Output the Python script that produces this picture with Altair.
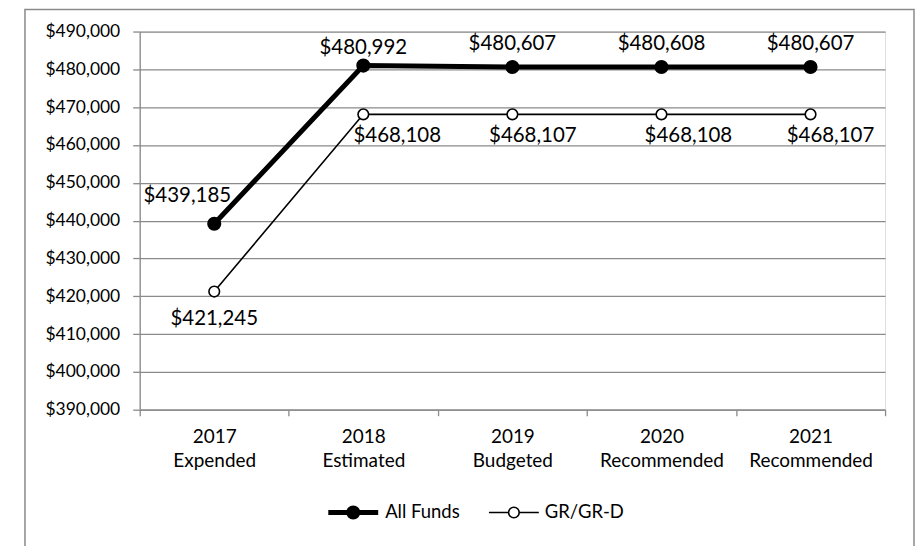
import altair as alt
import pandas as pd

years = ["2017", "2018", "2019", "2020", "2021"]
statuses = ["Expended", "Estimated", "Budgeted", "Recommended", "Recommended"]
all_funds = [439185, 480992, 480607, 480608, 480607]
gr_grd = [421245, 468108, 468107, 468108, 468107]
series_names = ["All Funds", "GR/GR-D"]
y_ticks = [390000, 400000, 410000, 420000, 430000, 440000, 450000, 460000, 470000, 480000, 490000]

categories = [f"{y} {s}" for y, s in zip(years, statuses)]
rows = []
for i, c in enumerate(categories):
    rows.append({"category": c, "idx": i, "series": series_names[0], "value": all_funds[i]})
    rows.append({"category": c, "idx": i, "series": series_names[1], "value": gr_grd[i]})
df = pd.DataFrame(rows)

FONT = "Lato"
GRID = "#8a8a8a"
W, H = 747, 379

x_enc = alt.X(
    "category:N", sort=categories,
    scale=alt.Scale(type="band", paddingInner=0, paddingOuter=0),
    bandPosition=0.5,
    axis=alt.Axis(title=None, labelExpr="split(datum.label, ' ')", tickBand="extent",
                  labelAngle=0, labelFont=FONT, labelFontSize=19, labelColor="black",
                  labelLineHeight=24, labelPadding=12, tickSize=6, tickColor=GRID,
                  domainColor=GRID, domainWidth=1.3, tickWidth=1.3, grid=False),
)
y_enc = alt.Y(
    "value:Q",
    scale=alt.Scale(domain=[390000, 490000], nice=False, zero=False),
    axis=alt.Axis(title=None, values=y_ticks, format="$,.0f", grid=True, gridColor=GRID,
                  gridWidth=1.3, tickSize=7, tickColor=GRID, tickWidth=1.3,
                  domainColor=GRID, domainWidth=1.3, labelPadding=13,
                  labelFont=FONT, labelFontSize=17.5, labelColor="black"),
)

base = alt.Chart(df).encode(x=x_enc, y=y_enc)
af = base.transform_filter(alt.datum.series == series_names[0])
gr = base.transform_filter(alt.datum.series == series_names[1])

layers = []

border = alt.Chart(pd.DataFrame({"a": [0]})).mark_rect(
    fillOpacity=0, stroke="#8a8a8a", strokeWidth=1.5
).encode(x=alt.value(-115), x2=alt.value(776), y=alt.value(-22), y2=alt.value(700))
layers.append(border)

layers.append(af.mark_line(color="black", strokeWidth=5))
layers.append(gr.mark_line(color="black", strokeWidth=1.6))
layers.append(af.mark_point(shape="circle", filled=True, color="black", size=200, opacity=1))
layers.append(gr.mark_point(shape="circle", filled=True, fill="white", stroke="black",
                            strokeWidth=1.6, size=113, opacity=1))

af_off = [(-27, -21.6), (0, -11.4), (0, -16.7), (0, -16.7), (0, -16.7)]
gr_off = [(0, 33.4), (34, 28), (20.5, 28), (27, 28), (20, 28)]
for s_chart, offs in ((af, af_off), (gr, gr_off)):
    for i, (dx, dy) in enumerate(offs):
        layers.append(
            s_chart.transform_filter(alt.datum.idx == i).mark_text(
                font=FONT, fontSize=20.5, color="black", dx=dx, dy=dy,
                baseline="alphabetic", align="center"
            ).encode(text=alt.Text("value:Q", format="$,.0f"))
        )

# manual legend
leg_y = 482
leg_df = pd.DataFrame({"series": series_names})
legA = alt.Chart(leg_df).transform_filter(alt.datum.series == series_names[0])
legB = alt.Chart(leg_df).transform_filter(alt.datum.series == series_names[1])
layers.append(legA.mark_rule(color="black", strokeWidth=5).encode(
    x=alt.value(189), x2=alt.value(239), y=alt.value(leg_y)))
layers.append(legA.mark_point(shape="circle", filled=True, color="black", size=200, opacity=1).encode(
    x=alt.value(214), y=alt.value(leg_y)))
layers.append(legA.mark_text(font=FONT, fontSize=18.5, align="left", baseline="middle", color="black").encode(
    x=alt.value(246), y=alt.value(leg_y), text="series:N"))
layers.append(legB.mark_rule(color="black", strokeWidth=1.6).encode(
    x=alt.value(350), x2=alt.value(400), y=alt.value(leg_y)))
layers.append(legB.mark_point(shape="circle", filled=True, fill="white", stroke="black",
                              strokeWidth=1.6, size=113, opacity=1).encode(
    x=alt.value(375), y=alt.value(leg_y)))
layers.append(legB.mark_text(font=FONT, fontSize=18.5, align="left", baseline="middle", color="black").encode(
    x=alt.value(406), y=alt.value(leg_y), text="series:N"))

chart = alt.layer(*layers).properties(
    width=W, height=H,
    autosize=alt.AutoSizeParams(type="none"),
    padding={"left": 132, "top": 23, "right": 31, "bottom": 136},
).configure_view(strokeWidth=0).configure(font=FONT, background="white")

chart.save("out.html", embed_options={"renderer": "svg", "actions": False})
